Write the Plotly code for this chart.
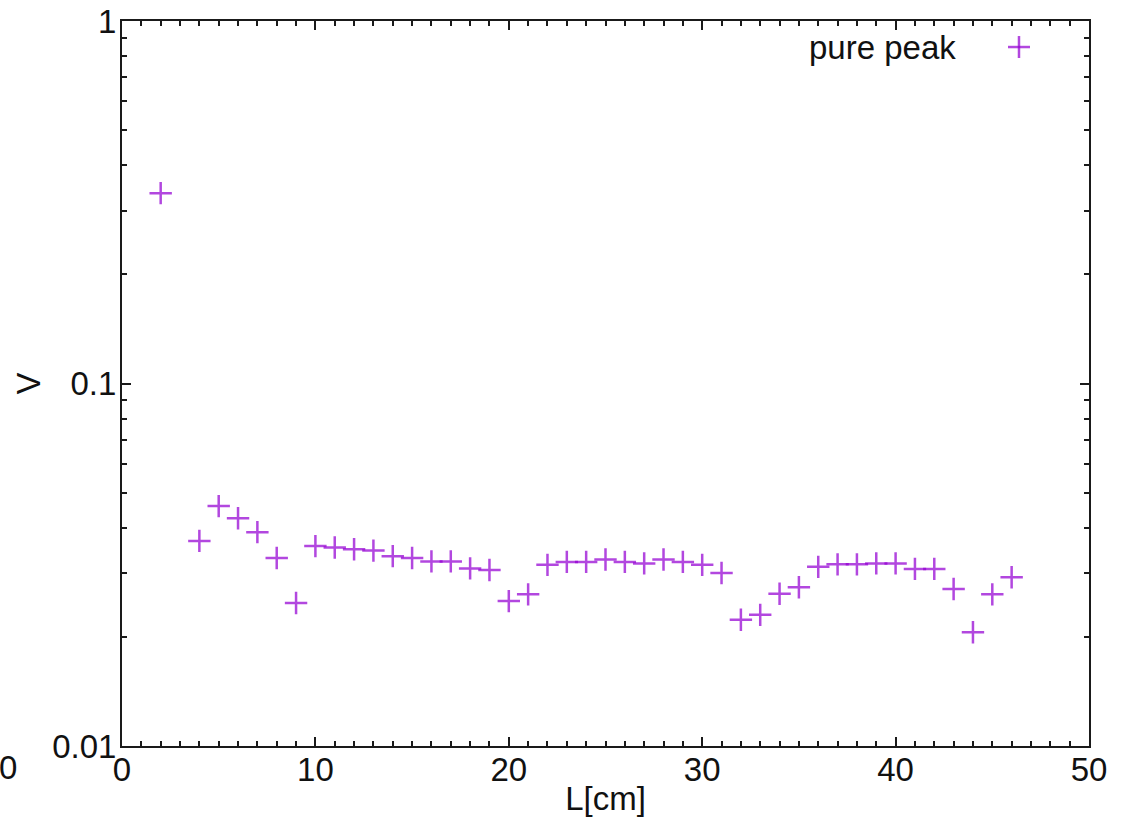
import plotly.graph_objects as go

# Measured peak voltage versus length
length_cm = [2, 4, 5, 6, 7, 8, 9, 10, 11, 12, 13, 14, 15, 16, 17, 18, 19, 20,
             21, 22, 23, 24, 25, 26, 27, 28, 29, 30, 31, 32, 33, 34, 35, 36,
             37, 38, 39, 40, 41, 42, 43, 44, 45, 46]
pure_peak = [0.335, 0.0368, 0.0459, 0.0425, 0.0389, 0.0330, 0.0248, 0.0356,
             0.0353, 0.0349, 0.0346, 0.0334, 0.0330, 0.0323, 0.0323, 0.0309,
             0.0306, 0.0251, 0.0262, 0.0316, 0.0322, 0.0322, 0.0327, 0.0322,
             0.0319, 0.0327, 0.0322, 0.0316, 0.0300, 0.0223, 0.0230, 0.0263,
             0.0274, 0.0312, 0.0317, 0.0317, 0.0319, 0.0319, 0.0308, 0.0308,
             0.0271, 0.0206, 0.0262, 0.0292]

x_ticks = [0, 10, 20, 30, 40, 50]
x_ticktext = ["0", "10", "20", "30", "40", "50"]
y_ticks = [0.01, 0.1, 1]
y_ticktext = ["0.01", "0.1", "1"]

series_name = "pure peak"
x_title = "L[cm]"
y_title = "V"

FONT = "Liberation Sans, Arial, sans-serif"
FS = 33
MARK = "rgba(148,0,211,0.72)"
AXIS = "#1a1a1a"

fig = go.Figure()
fig.add_trace(go.Scatter(
    x=length_cm, y=pure_peak, mode="markers", name=series_name,
    showlegend=False,
    marker=dict(symbol="cross-thin", size=16,
                line=dict(color=MARK, width=2.5)),
))

axis_common = dict(
    showline=True, linecolor=AXIS, linewidth=2, mirror="allticks",
    ticks="inside", tickcolor=AXIS, tickwidth=1.5, ticklen=9,
    showgrid=False, zeroline=False,
    tickfont=dict(family=FONT, size=FS, color="#111"),
)

fig.update_xaxes(
    range=[0, 50], tickvals=x_ticks, ticktext=x_ticktext,
    minor=dict(ticks="inside", ticklen=5, tickwidth=1.5, tickcolor=AXIS,
               dtick=1, showgrid=False),
    ticklabelstandoff=-7,
    title=dict(text=x_title, font=dict(family=FONT, size=FS, color="#111"),
               standoff=5),
    **axis_common,
)
fig.update_yaxes(
    type="log", range=[-2, 0], tickvals=y_ticks, ticktext=y_ticktext,
    minor=dict(ticks="inside", ticklen=5, tickwidth=1.5, tickcolor=AXIS,
               dtick="D1", showgrid=False),
    ticklabelstandoff=-3,
    **axis_common,
)

# Vertical axis title, placed to the left of the tick labels
fig.add_annotation(
    text=y_title, xref="paper", yref="paper", x=-0.0962, y=0.5,
    xanchor="center", yanchor="middle", textangle=-90, showarrow=False,
    font=dict(family=FONT, size=FS, color="#111"),
)

# Key: label followed by the marker sample, at the top right of the frame
fig.add_annotation(
    text=series_name, xref="paper", yref="paper", x=0.8645, y=0.9641,
    xanchor="right", yanchor="middle", showarrow=False,
    font=dict(family=FONT, size=FS, color="#111"),
)
key_x, key_y = 0.9276, 0.9641
fig.add_shape(type="line", xref="paper", yref="paper",
              xsizemode="pixel", ysizemode="pixel",
              xanchor=key_x, yanchor=key_y, x0=-11, x1=11, y0=0, y1=0,
              line=dict(color=MARK, width=2.5))
fig.add_shape(type="line", xref="paper", yref="paper",
              xsizemode="pixel", ysizemode="pixel",
              xanchor=key_x, yanchor=key_y, x0=0, x1=0, y0=-11, y1=11,
              line=dict(color=MARK, width=2.5))

# Lone "0" label at the far left of the tick-label row
fig.add_annotation(
    text="0", xref="paper", yref="paper", x=-0.118, y=-0.029,
    xanchor="center", yanchor="middle", showarrow=False,
    font=dict(family=FONT, size=FS, color="#111"),
)

fig.update_layout(
    width=1122, height=817,
    margin=dict(l=122, r=33, t=21, b=71, autoexpand=False),
    paper_bgcolor="white", plot_bgcolor="white",
    font=dict(family=FONT, size=FS, color="#111"),
)

fig.write_html("out.html")
